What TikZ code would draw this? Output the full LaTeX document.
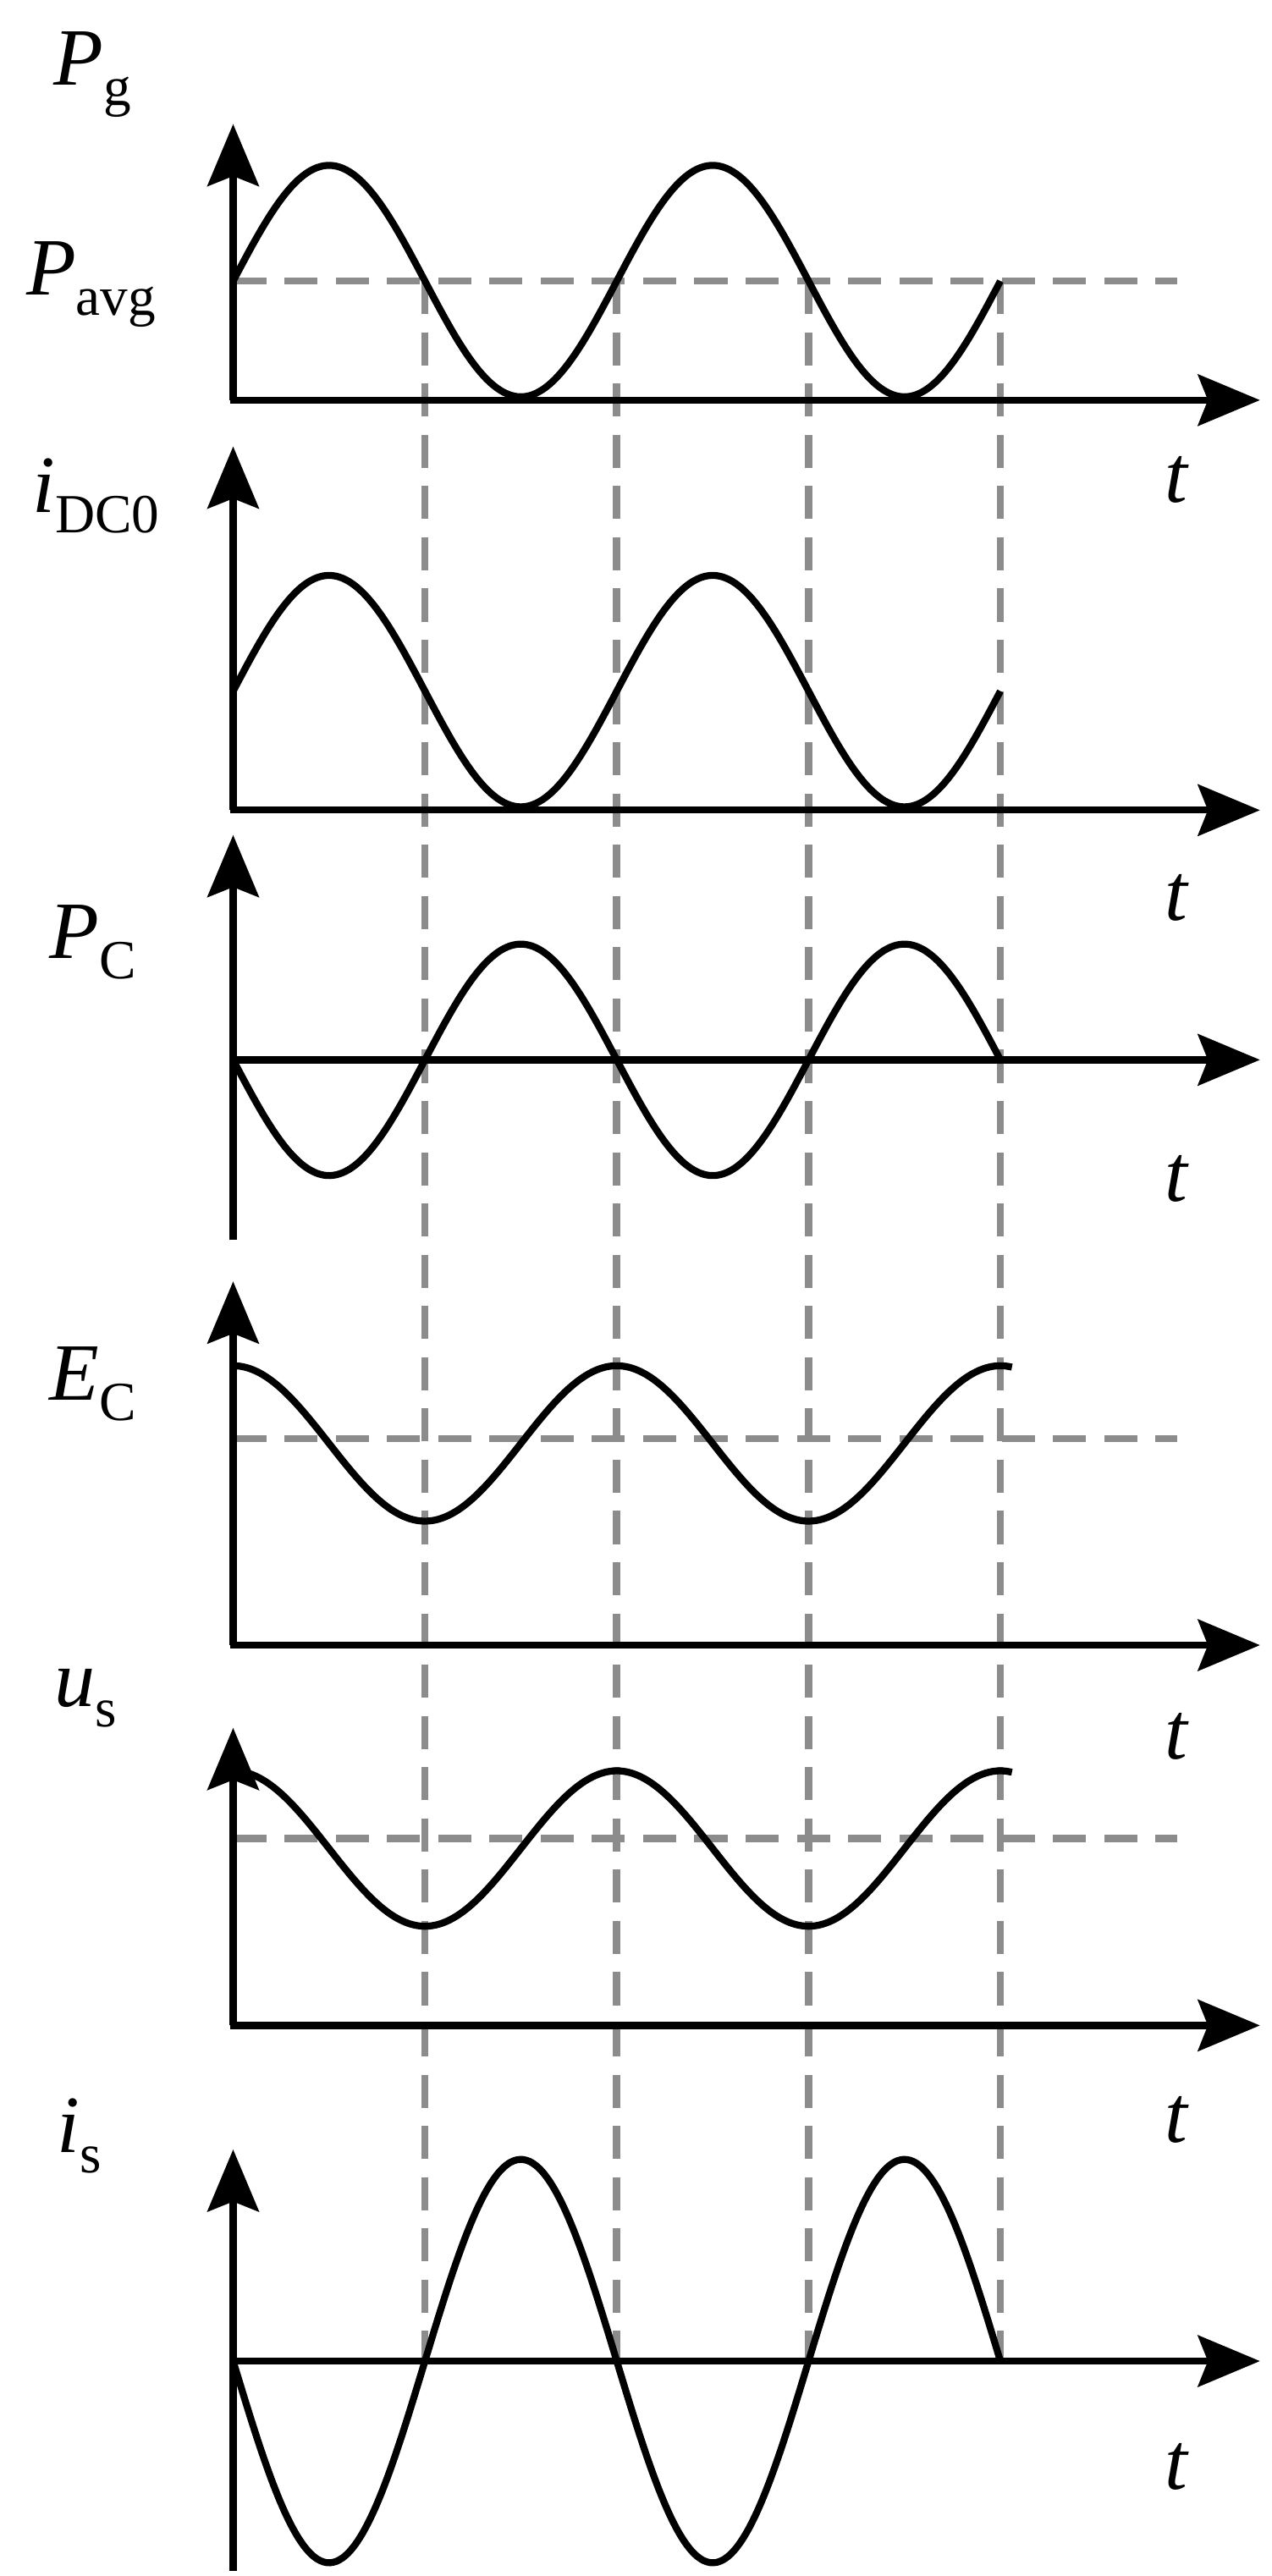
\documentclass[tikz,border=0pt]{standalone}
\usepackage{fontspec}
\setmainfont{Liberation Serif}
\usetikzlibrary{arrows.meta}
\tikzset{ax/.style={line width=2.4pt,-{Stealth[length=0.75cm,width=0.62cm,inset=0.12cm]}},
 wave/.style={line width=2.4pt},
 dsh/.style={line width=2.5pt,gray!90,dash pattern=on 0.4cm off 0.22cm},
 lbl/.style={font=\fontsize{28}{32}\selectfont,anchor=center}}
\newcommand{\subx}[1]{\raisebox{-0.25em}{\fontsize{19}{21}\selectfont #1}}
\begin{document}
\begin{tikzpicture}[x=0.02cm,y=-0.02cm]
\useasboundingbox (0,0) rectangle (769,1558);
% dashed
\draw[dsh] (141,170) -- (712,170);
\draw[dsh] (141,870) -- (712,870);
\draw[dsh] (141,1112) -- (712,1112);
\foreach \xx in {257,373,489,605} \draw[dsh] (\xx,170) -- (\xx,1428);
% axes
\foreach \yb/\yt/\xa in {242/75/242,490/270/490,750/505/641,995/775/995,1225/1045/1225,1555/1300/1428}{
 \draw[ax] (141,\yb) -- (141,\yt);
 \draw[ax] (139,\xa) -- (762,\xa);}
% waves
\draw[wave] plot[domain=141:605,samples=120,smooth] (\x,{170-70*sin((\x-141)/232*360)});
\draw[wave] plot[domain=141:605,samples=120,smooth] (\x,{418-70*sin((\x-141)/232*360)});
\draw[wave] plot[domain=141:605,samples=120,smooth] (\x,{641+70*sin((\x-141)/232*360)});
\draw[wave] plot[domain=141:612,samples=120,smooth] (\x,{873-47*cos((\x-141)/232*360)});
\draw[wave] plot[domain=141:612,samples=120,smooth] (\x,{1118-47*cos((\x-141)/232*360)});
\draw[wave] plot[domain=141:605,samples=120,smooth] (\x,{1428+122*sin((\x-141)/232*360)});
% labels
\node[lbl] (l1) at (56,45) {\textit{P}\subx{g}};
\node[lbl] (l2) at (55,172) {\textit{P}\subx{avg}};
\node[lbl] (l3) at (58,300) {\textit{i}\subx{DC0}};
\node[lbl] (l4) at (56,570) {\textit{P}\subx{C}};
\node[lbl] (l5) at (56,837) {\textit{E}\subx{C}};
\node[lbl] (l6) at (52,1027) {\textit{u}\subx{s}};
\node[lbl] (l7) at (48,1292) {\textit{i}\subx{s}};
\foreach \ty in {290,543,713,1050,1282,1492} \node[lbl] at (712,\ty) {\textit{t}};
\end{tikzpicture}
\end{document}
